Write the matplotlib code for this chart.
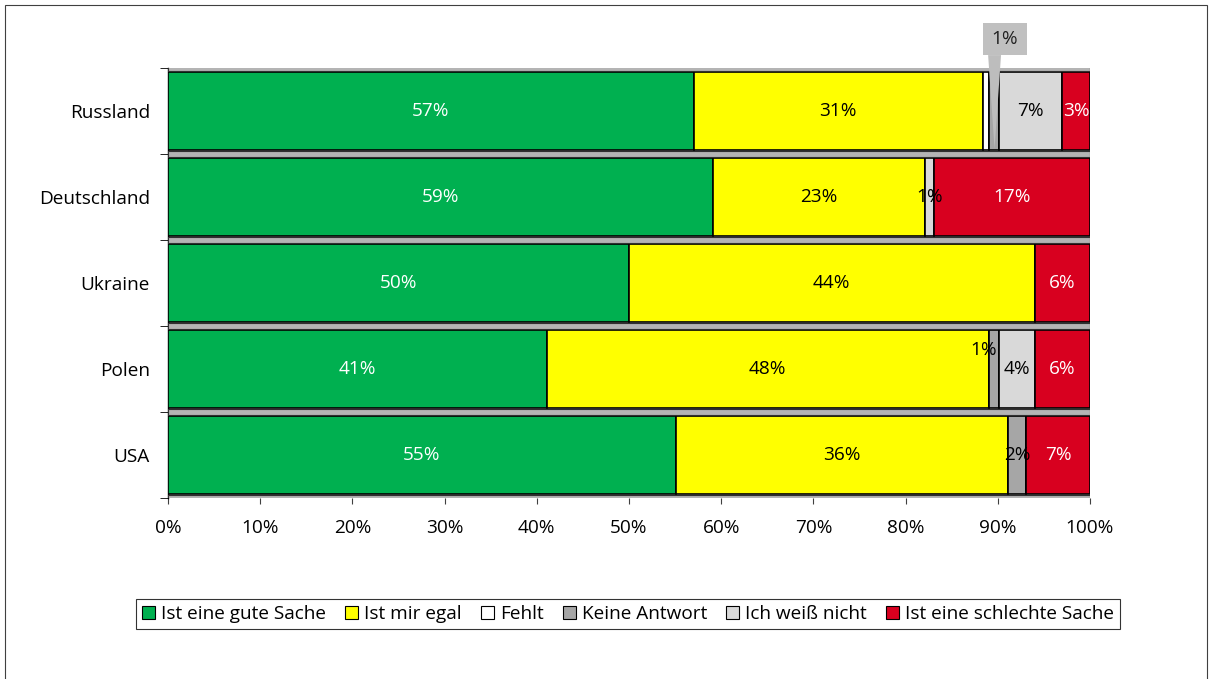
import matplotlib
matplotlib.use("Agg")
import matplotlib.pyplot as plt
from matplotlib.patches import Patch, Rectangle, Polygon
import numpy as np

plt.rcParams['font.family'] = ['Open Sans', 'DejaVu Sans']

countries = ["Russland", "Deutschland", "Ukraine", "Polen", "USA"]
series_names = ["Ist eine gute Sache", "Ist mir egal", "Fehlt", "Keine Antwort",
                "Ich weiß nicht", "Ist eine schlechte Sache"]
gut = [57, 59.1, 50, 41.1, 55.1]
egal = [31.4, 23, 44, 47.9, 36]
fehlt = [0.6, 0, 0, 0, 0]
keine = [1.1, 0, 0, 1.1, 2]
weiss = [6.9, 1, 0, 3.9, 0]
schlecht = [3.0, 16.9, 6, 6, 6.9]
xticks_pct = [0, 10, 20, 30, 40, 50, 60, 70, 80, 90, 100]

colors = ["#00b050", "#ffff00", "#ffffff", "#a6a6a6", "#d9d9d9", "#d8001f"]
label_colors = ["white", "black", "black", "black", "black", "white"]
series = [gut, egal, fehlt, keine, weiss, schlecht]
FS = 13.7

fig = plt.figure(figsize=(12.11, 6.79), dpi=100)
# outer frame
fig.patches.append(Rectangle((0.004, -0.01), 0.993, 1.003, transform=fig.transFigure,
                             fill=False, edgecolor="#404040", linewidth=0.8))
ax = fig.add_axes([168/1211, 1-498/679, (1090-168)/1211, (498-68)/679])

n = len(countries)
y = np.arange(n)
bar_h = 0.9
left = np.zeros(n)
for si, (vals, col) in enumerate(zip(series, colors)):
    vals = np.array(vals, dtype=float)
    ax.barh(y, vals, left=left, height=bar_h, color=col, edgecolor="black",
            linewidth=1.2, zorder=3)
    for i, v in enumerate(vals):
        if v < 0.95:
            continue
        if countries[i] == "Russland" and series_names[si] == "Keine Antwort":
            continue  # labelled with callout
        xc = left[i] + v / 2
        dx, dy = 0, 0
        if countries[i] == "Polen" and series_names[si] == "Keine Antwort":
            dx, dy = -7, 14
        ax.annotate(f"{v:.0f}%", (xc, y[i]), xytext=(dx, dy), textcoords="offset points",
                    ha="center", va="center", fontsize=FS,
                    color=label_colors[si], zorder=5)
    left = left + vals

# 3D-like separators at slot boundaries
for b in np.arange(-0.5, n + 0.5, 1.0):
    ax.add_patch(Rectangle((0, b - 0.035), 100, 0.07, facecolor="#b4b4b4",
                           edgecolor="#303030", linewidth=0.8, zorder=4))

# callout for Russland "Keine Antwort"
ri = countries.index("Russland")
kx = gut[ri] + egal[ri] + fehlt[ri] + keine[ri] / 2
box_x0, box_x1 = kx - 1.2, kx + 3.6
box_y0, box_y1 = -1.02, -0.65
ax.add_patch(Rectangle((box_x0, box_y0), box_x1 - box_x0, box_y1 - box_y0,
                       facecolor="#c0c0c0", edgecolor="none", zorder=7, clip_on=False))
ax.add_patch(Polygon([(kx - 0.6, box_y1), (kx + 0.8, box_y1), (kx + 0.1, 0.44)], closed=True,
                     facecolor="#bdbdbd", edgecolor="none", zorder=6, clip_on=False))
ax.text((box_x0 + box_x1) / 2, (box_y0 + box_y1) / 2, f"{keine[ri]:.0f}%",
        ha="center", va="center", fontsize=FS, color="#202020", zorder=8, clip_on=False)

ax.set_xlim(0, 100)
ax.set_ylim(n - 0.5, -0.5)
ax.set_xticks(xticks_pct)
ax.set_xticklabels([f"{t}%" for t in xticks_pct], fontsize=FS)
ax.set_yticks(y)
ax.set_yticklabels(countries, fontsize=FS)
ax.tick_params(axis="y", which="major", length=0, pad=13)
ax.set_yticks(np.arange(-0.5, n + 0.5, 1.0), minor=True)
ax.tick_params(axis="y", which="minor", length=6, color="black")
ax.tick_params(axis="x", length=4, color="#404040", pad=11)
for s in ["top", "right", "bottom"]:
    ax.spines[s].set_visible(False)
ax.spines["left"].set_linewidth(1.0)
ax.set_facecolor("none")

handles = [Patch(facecolor=c, edgecolor="black", linewidth=0.8) for c in colors]
leg = fig.legend(handles, series_names, loc="center", bbox_to_anchor=(628/1211, 1-614/679),
                 ncol=6, fontsize=FS, frameon=True, fancybox=False, handlelength=0.7,
                 handleheight=0.7, handletextpad=0.3, columnspacing=1.0,
                 borderpad=0.3, edgecolor="black")
leg.get_frame().set_linewidth(0.8)

fig.savefig("out.png", dpi=100)
